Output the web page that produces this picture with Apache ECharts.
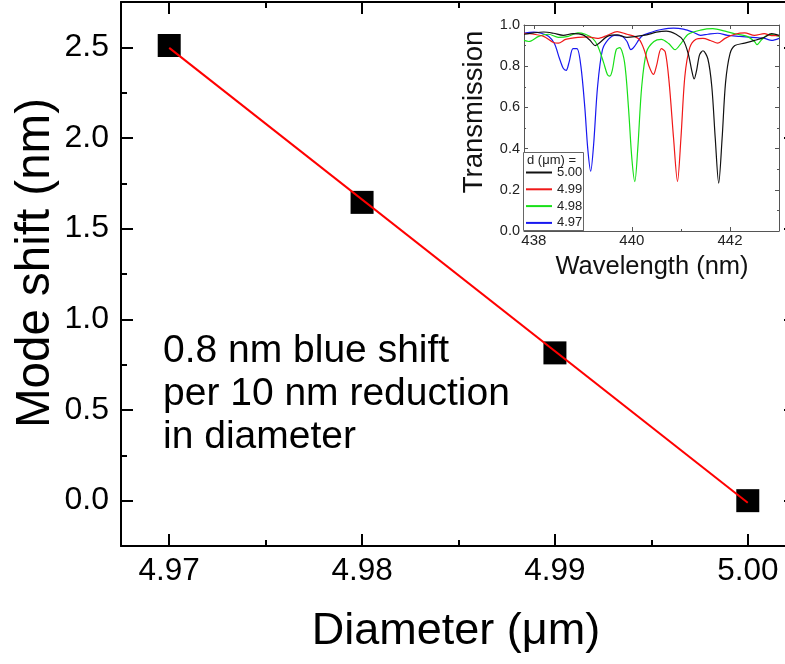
<!DOCTYPE html>
<html><head><meta charset="utf-8">
<script src="https://cdn.jsdelivr.net/npm/echarts@6/dist/echarts.min.js"></script>
<style>html,body{margin:0;padding:0;background:#fff}#c{width:785px;height:664px}</style>
</head><body><div id="c"></div>
<script>
// ---- main plot data ----
const diameters = [4.97, 4.98, 4.99, 5.00];
const modeShift = [2.51, 1.645, 0.815, 0.0];
const fitX = [4.97, 5.00];
const fitY = [2.497, -0.011];
const xMajor = [4.97, 4.98, 4.99, 5.00];
const xMinor = [4.975, 4.985, 4.995];
const yMajor = [0, 0.5, 1.0, 1.5, 2.0, 2.5];
const yMinor = [0.25, 0.75, 1.25, 1.75, 2.25];
const annotation = ['0.8 nm blue shift', 'per 10 nm reduction', 'in diameter'];

// ---- inset data ----
const wlMajor = [438, 440, 442];
const wlMinor = [439, 441];
const insetYMajor = [0, 0.2, 0.4, 0.6, 0.8, 1.0];
const insetYMinor = [0.1, 0.3, 0.5, 0.7, 0.9];
const curveNames = ['5.00', '4.99', '4.98', '4.97'];
const curveColors = ['#111111', '#f01818', '#18e018', '#1818f0'];
const wl500 = [437.8,438.0,438.2,438.4,438.6,438.8,439.0,439.15,439.25,439.35,439.5,439.7,439.9,440.1,440.3,440.5,440.7,440.9,441.05,441.15,441.22,441.27,441.32,441.38,441.45,441.55,441.63,441.7,441.77,441.84,441.91,442.0,442.1,442.3,442.5,442.7,442.85,443.0];
const t500  = [0.955,0.962,0.966,0.960,0.950,0.958,0.952,0.925,0.900,0.915,0.945,0.952,0.940,0.945,0.952,0.965,0.970,0.955,0.925,0.860,0.780,0.738,0.780,0.855,0.875,0.835,0.700,0.450,0.232,0.450,0.720,0.860,0.900,0.912,0.925,0.940,0.958,0.950];
const wl499 = [437.8,438.0,438.2,438.4,438.5,438.65,438.9,439.1,439.3,439.5,439.7,439.9,440.05,440.15,440.25,440.35,440.44,440.5,440.6,440.68,440.76,440.85,440.93,441.0,441.08,441.18,441.3,441.45,441.6,441.75,441.9,442.1,442.3,442.5,442.7,442.85,443.0];
const t499  = [0.960,0.955,0.945,0.915,0.912,0.930,0.940,0.942,0.935,0.950,0.968,0.955,0.945,0.930,0.880,0.800,0.760,0.800,0.885,0.870,0.720,0.450,0.240,0.450,0.750,0.890,0.930,0.935,0.925,0.912,0.935,0.955,0.962,0.950,0.958,0.948,0.948];
const wl498 = [437.8,437.9,438.1,438.3,438.5,438.7,438.9,439.05,439.2,439.3,439.42,439.5,439.55,439.6,439.68,439.75,439.85,439.93,440.0,440.06,440.12,440.2,440.3,440.45,440.6,440.75,440.88,441.0,441.15,441.4,441.65,441.9,442.15,442.35,442.5,442.55,442.65,442.8,443.0];
const t498  = [0.925,0.920,0.945,0.955,0.940,0.945,0.962,0.955,0.935,0.900,0.820,0.760,0.752,0.780,0.880,0.890,0.820,0.600,0.350,0.240,0.400,0.700,0.870,0.920,0.930,0.910,0.880,0.910,0.955,0.975,0.982,0.970,0.955,0.945,0.920,0.905,0.930,0.955,0.945];
const wl497 = [437.8,438.0,438.15,438.3,438.42,438.52,438.6,438.66,438.72,438.8,438.88,438.96,439.04,439.1,439.16,439.22,439.3,439.4,439.52,439.65,439.8,439.9,439.98,440.05,440.2,440.4,440.6,440.85,441.05,441.25,441.4,441.55,441.75,441.95,442.2,442.45,442.7,442.85,443.0];
const t497  = [0.960,0.965,0.960,0.945,0.910,0.840,0.790,0.780,0.820,0.885,0.885,0.800,0.600,0.400,0.290,0.420,0.700,0.880,0.930,0.950,0.945,0.920,0.880,0.895,0.945,0.965,0.978,0.985,0.980,0.965,0.950,0.955,0.960,0.950,0.945,0.940,0.935,0.925,0.935];
const curveWl = [wl500, wl499, wl498, wl497];
const curveT = [t500, t499, t498, t497];

const FONT = 'Liberation Sans, Arial, sans-serif';
const zip = (a, b) => a.map((v, i) => [v, b[i]]);

function axis(o) {
  return {
    type: 'value', gridIndex: o.grid, position: o.pos, min: o.min, max: o.max,
    splitLine: { show: false },
    axisLine: { show: !!o.line, onZero: false, lineStyle: { color: o.color, width: o.lw } },
    axisTick: { show: true, inside: true, length: o.len, customValues: o.ticks,
                lineStyle: { color: o.color, width: o.lw } },
    axisLabel: o.label ? Object.assign({ show: true, customValues: o.ticks, color: o.labelColor || '#000',
                fontFamily: FONT }, o.label) : { show: false },
    axisPointer: { show: false }
  };
}

const MX = { grid: 0, min: 4.9675, max: 5.0025, color: '#000', lw: 2 };
const MY = { grid: 0, min: -0.25, max: 2.75, color: '#000', lw: 2 };
const IX = { grid: 1, min: 437.8, max: 443.0, color: '#555', lw: 1 };
const IY = { grid: 1, min: 0, max: 1.0, color: '#555', lw: 1 };

const xAxes = [
  axis(Object.assign({}, MX, { pos: 'bottom', line: true, ticks: xMajor, len: 12,
    label: { fontSize: 31.5, margin: 9, formatter: v => v.toFixed(2) } })),
  axis(Object.assign({}, MX, { pos: 'bottom', ticks: xMinor, len: 6 })),
  axis(Object.assign({}, MX, { pos: 'top', line: true, ticks: xMajor, len: 12 })),
  axis(Object.assign({}, MX, { pos: 'top', ticks: xMinor, len: 6 })),
  axis(Object.assign({}, IX, { pos: 'bottom', line: true, ticks: wlMajor, len: 4,
    label: { fontSize: 15, margin: 2, color: '#222', formatter: v => String(Math.round(v)) } })),
  axis(Object.assign({}, IX, { pos: 'bottom', ticks: wlMinor, len: 2 })),
  axis(Object.assign({}, IX, { pos: 'top', line: true, ticks: wlMajor, len: 4 })),
  axis(Object.assign({}, IX, { pos: 'top', ticks: wlMinor, len: 2 }))
];
const yAxes = [
  axis(Object.assign({}, MY, { pos: 'left', line: true, ticks: yMajor, len: 12,
    label: { fontSize: 32, margin: 12, formatter: v => v.toFixed(1) } })),
  axis(Object.assign({}, MY, { pos: 'left', ticks: yMinor, len: 6 })),
  axis(Object.assign({}, MY, { pos: 'right', line: true, ticks: yMajor, len: 12 })),
  axis(Object.assign({}, MY, { pos: 'right', ticks: yMinor, len: 6 })),
  axis(Object.assign({}, IY, { pos: 'left', line: true, ticks: insetYMajor, len: 4,
    label: { fontSize: 14.5, margin: 4, color: '#222', formatter: v => v.toFixed(1) } })),
  axis(Object.assign({}, IY, { pos: 'left', ticks: insetYMinor, len: 2 })),
  axis(Object.assign({}, IY, { pos: 'right', line: true, ticks: insetYMajor, len: 4 })),
  axis(Object.assign({}, IY, { pos: 'right', ticks: insetYMinor, len: 2 }))
];

const insetSeries = curveNames.map((n, i) => ({
  name: n, type: 'line', xAxisIndex: 4, yAxisIndex: 4,
  data: zip(curveWl[i], curveT[i]), showSymbol: false, symbol: 'none',
  smooth: 0.3, clip: true, z: 2 + (3 - i) * 0.01,
  itemStyle: { color: curveColors[i] },
  lineStyle: { color: curveColors[i], width: 1.2 }
}));

const option = {
  animation: false,
  backgroundColor: '#fff',
  textStyle: { fontFamily: FONT },
  grid: [
    { left: 121, top: 2, right: -11, bottom: 118, containLabel: false, outerBoundsMode: 'none' },
    { left: 524, top: 25, width: 255, height: 206, containLabel: false, outerBoundsMode: 'none',
      show: true, backgroundColor: '#fff', borderWidth: 0 }
  ],
  xAxis: xAxes,
  yAxis: yAxes,
  legend: {
    data: curveNames, orient: 'vertical', left: 526, top: 166,
    itemWidth: 26, itemHeight: 2, itemGap: 3.8, icon: 'rect', padding: 0,
    selectedMode: false,
    textStyle: { fontSize: 13, color: '#222', fontFamily: FONT, lineHeight: 13 }
  },
  graphic: [
    { type: 'rect', z: 3, shape: { x: 523.5, y: 152.5, width: 60, height: 78 },
      style: { fill: '#fff', stroke: '#666', lineWidth: 1 } },
    { type: 'text', z: 4, x: 527, y: 160,
      style: { text: 'd (μm) =', font: '13px ' + FONT, fill: '#222', textVerticalAlign: 'middle' } },
    { type: 'text', x: 36, y: 263, rotation: Math.PI / 2,
      style: { text: 'Mode shift (nm)', font: '47.5px ' + FONT, fill: '#000', textAlign: 'center', textVerticalAlign: 'middle' } },
    { type: 'text', x: 456, y: 632,
      style: { text: 'Diameter (μm)', font: '45px ' + FONT, fill: '#000', textAlign: 'center', textVerticalAlign: 'middle' } },
    { type: 'text', x: 474, y: 112, rotation: Math.PI / 2,
      style: { text: 'Transmission', font: '27.5px ' + FONT, fill: '#111', textAlign: 'center', textVerticalAlign: 'middle' } },
    { type: 'text', x: 652, y: 267,
      style: { text: 'Wavelength (nm)', font: '25.5px ' + FONT, fill: '#111', textAlign: 'center', textVerticalAlign: 'middle' } },
    { type: 'text', x: 163, y: 330,
      style: { text: annotation.join('\n'), font: '39px ' + FONT, lineHeight: 43, fill: '#000', textVerticalAlign: 'top' } }
  ],
  series: [
    { name: 'data', type: 'scatter', xAxisIndex: 0, yAxisIndex: 0, symbol: 'rect', symbolSize: 23,
      itemStyle: { color: '#000', opacity: 1 }, data: zip(diameters, modeShift), z: 2 },
    { name: 'fit', type: 'line', xAxisIndex: 0, yAxisIndex: 0, symbol: 'none', showSymbol: false,
      lineStyle: { color: '#ff0000', width: 2 }, data: zip(fitX, fitY), z: 3 }
  ].concat(insetSeries)
};

const chart = echarts.init(document.getElementById('c'), null, { renderer: 'canvas' });
chart.setOption(option);
</script>
</body></html>
